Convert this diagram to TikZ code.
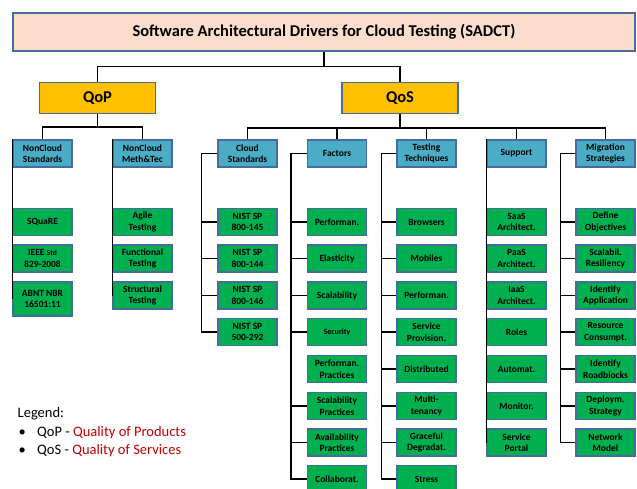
\documentclass[tikz,border=0pt]{standalone}
\usepackage{fontspec}
\setmainfont{Carlito}
\usepackage{xcolor}
\definecolor{titlefill}{RGB}{251,221,206}
\definecolor{edgeblue}{RGB}{70,108,158}
\definecolor{qgold}{RGB}{255,192,0}
\definecolor{hdrblue}{RGB}{75,172,198}
\definecolor{leafgreen}{RGB}{0,176,80}
\definecolor{qred}{RGB}{192,0,0}

\tikzset{
  box/.style={draw=edgeblue,line width=1.2pt,minimum width=59pt,minimum height=27pt,
    inner sep=1pt,align=center,font=\fontsize{9.5}{11.5}\selectfont\bfseries},
  hdr/.style={box,fill=hdrblue},
  leaf/.style={box,fill=leafgreen},
  qbox/.style={draw=edgeblue,line width=1.2pt,fill=qgold,minimum width=116pt,
    minimum height=31pt,font=\fontsize{16.5}{18}\selectfont\bfseries},
  link/.style={line width=1.8pt,black},
  legendtext/.style={inner sep=0pt,anchor=west,font=\fontsize{14.5}{17}\selectfont},
}

\begin{document}
\begin{tikzpicture}[x=1pt,y=-1pt]
\useasboundingbox (0,0) rectangle (637,489);

% top levels
\node[draw=edgeblue,line width=1.2pt,fill=titlefill,minimum width=622pt,minimum height=38pt,
  font=\fontsize{16.5}{18}\selectfont\bfseries] (sadct) at (324,32)
  {Software Architectural Drivers for Cloud Testing (SADCT)};
\node[qbox] (qop) at (97.5,98) {QoP};
\node[qbox] (qos) at (400,98) {QoS};

% second level
\node[hdr] (ncstd) at (42.5,153.5) {NonCloud\\Standards};
\node[hdr] (ncmt) at (142.5,153.5) {NonCloud\\Meth\&Tec};
\node[hdr] (cloud) at (247.5,153.5) {Cloud\\Standards};
\node[hdr] (factors) at (337,153.5) {Factors};
\node[hdr] (testing) at (426.5,153.5) {Testing\\Techniques};
\node[hdr] (support) at (516.5,153.5) {Support};
\node[hdr] (migration) at (605.5,153.5) {Migration\\Strategies};

% NonCloud Standards
\node[leaf] (square) at (42.5,222) {SQuaRE};
\node[leaf] (ieee) at (42.5,258.5) {IEEE {\fontsize{7.5}{9}\selectfont Std}\\829-2008};
\node[leaf,minimum height=34pt] (abnt) at (42.5,299) {ABNT NBR\\16501:11};

% NonCloud Meth&Tec
\node[leaf] (agile) at (142.5,222) {Agile\\Testing};
\node[leaf] (functional) at (142.5,258.5) {Functional\\Testing};
\node[leaf] (structural) at (142.5,295.5) {Structural\\Testing};

% Cloud Standards
\node[leaf] (nist1) at (247.5,222) {NIST SP\\800-145};
\node[leaf] (nist2) at (247.5,258.5) {NIST SP\\800-144};
\node[leaf] (nist3) at (247.5,295.5) {NIST SP\\800-146};
\node[leaf] (nist4) at (247.5,332) {NIST SP\\500-292};

% Factors
\node[leaf] (fperf) at (337,222) {Performan.};
\node[leaf] (felast) at (337,258.5) {Elasticity};
\node[leaf] (fscal) at (337,295.5) {Scalability};
\node[leaf,font=\fontsize{8}{10}\selectfont\bfseries] (fsec) at (337,332) {Security};
\node[leaf] (fperfprac) at (337,369) {Performan.\\Practices};
\node[leaf] (fscalprac) at (337,406) {Scalability\\Practices};
\node[leaf] (favailprac) at (337,442.5) {Availability\\Practices};
\node[leaf] (fcollab) at (337,479) {Collaborat.};

% Testing Techniques
\node[leaf] (tbrow) at (426.5,222) {Browsers};
\node[leaf] (tmob) at (426.5,258.5) {Mobiles};
\node[leaf] (tperf) at (426.5,295.5) {Performan.};
\node[leaf] (tprov) at (426.5,332) {Service\\Provision.};
\node[leaf] (tdist) at (426.5,369) {Distributed};
\node[leaf] (tmulti) at (426.5,406) {Multi-\\tenancy};
\node[leaf] (tgrace) at (426.5,442.5) {Graceful\\Degradat.};
\node[leaf] (tstress) at (426.5,479) {Stress};

% Support
\node[leaf] (saas) at (516.5,222) {SaaS\\Architect.};
\node[leaf] (paas) at (516.5,258.5) {PaaS\\Architect.};
\node[leaf] (iaas) at (516.5,295.5) {IaaS\\Architect.};
\node[leaf] (roles) at (516.5,332) {Roles};
\node[leaf] (automat) at (516.5,369) {Automat.};
\node[leaf] (monitor) at (516.5,406) {Monitor.};
\node[leaf] (portal) at (516.5,442.5) {Service\\Portal};

% Migration Strategies
\node[leaf] (mobj) at (605.5,222) {Define\\Objectives};
\node[leaf] (mres) at (605.5,258.5) {Scalabil.\\Resiliency};
\node[leaf] (mapp) at (605.5,295.5) {Identify\\Application};
\node[leaf] (mcons) at (605.5,332) {Resource\\Consumpt.};
\node[leaf] (mroad) at (605.5,369) {Identify\\Roadblocks};
\node[leaf] (mdepl) at (605.5,406) {Deploym.\\Strategy};
\node[leaf] (mnet) at (605.5,442.5) {Network\\Model};

% tree links
\draw[link] (sadct.south) -- ++(0,15) -| (qop.north);
\draw[link] (sadct.south) -- ++(0,15) -| (qos.north);
\draw[link] (qop.south) -- ++(0,13) -| (ncstd.north);
\draw[link] (qop.south) -- ++(0,13) -| (ncmt.north);
\draw[link] (qos.south) -- ++(0,14) -| (cloud.north);
\draw[link] (qos.south) -- ++(0,14) -| (factors.north);
\draw[link] (qos.south) -- ++(0,14) -| (testing.north);
\draw[link] (qos.south) -- ++(0,14) -| (support.north);
\draw[link] (qos.south) -- ++(0,14) -| (migration.north);

% lines along the left edge
\draw[link] (ncstd.north west) -- (abnt.west);
\draw[link] (ncmt.north west) -- (structural.west);
\draw[link] (support.north west) -- (portal.west);

% Cloud Standards
\draw[link] (cloud.west) -- ++(-16,0) |- (nist1.west);
\draw[link] (cloud.west) -- ++(-16,0) |- (nist2.west);
\draw[link] (cloud.west) -- ++(-16,0) |- (nist3.west);
\draw[link] (cloud.west) -- ++(-16,0) |- (nist4.west);

% Factors
\draw[link] (factors.west) -- ++(-16,0) |- (fperf.west);
\draw[link] (factors.west) -- ++(-16,0) |- (felast.west);
\draw[link] (factors.west) -- ++(-16,0) |- (fscal.west);
\draw[link] (factors.west) -- ++(-16,0) |- (fsec.west);
\draw[link] (factors.west) -- ++(-16,0) |- (fscalprac.west);
\draw[link] (factors.west) -- ++(-16,0) |- (favailprac.west);
\draw[link] (factors.west) -- ++(-16,0) |- (fcollab.west);

% Testing Techniques
\draw[link] (testing.west) -- ++(-15,0) |- (tbrow.west);
\draw[link] (testing.west) -- ++(-15,0) |- (tmob.west);
\draw[link] (testing.west) -- ++(-15,0) |- (tperf.west);
\draw[link] (testing.west) -- ++(-15,0) |- (tprov.west);
\draw[link] (testing.west) -- ++(-15,0) |- (tdist.west);
\draw[link] (testing.west) -- ++(-15,0) |- (tmulti.west);
\draw[link] (testing.west) -- ++(-15,0) |- (tgrace.west);
\draw[link] (testing.west) -- ++(-15,0) |- (tstress.west);

% Migration Strategies
\draw[link] (migration.west) -- ++(-15,0) |- (mobj.west);
\draw[link] (migration.west) -- ++(-15,0) |- (mres.west);
\draw[link] (migration.west) -- ++(-15,0) |- (mapp.west);
\draw[link] (migration.west) -- ++(-15,0) |- (mcons.west);
\draw[link] (migration.west) -- ++(-15,0) |- (mroad.west);
\draw[link] (migration.west) -- ++(-15,0) |- (mdepl.west);
\draw[link] (migration.west) -- ++(-15,0) |- (mnet.west);

% legend
\node[legendtext] (legend) at (17.5,414) {Legend:};
\node[legendtext] (bullet1) at (18.5,433) {\textbullet};
\node[legendtext] (qopdef) at (37,433) {QoP - \textcolor{qred}{Quality of Products}};
\node[legendtext] (bullet2) at (18.5,451) {\textbullet};
\node[legendtext] (qosdef) at (37,451) {QoS - \textcolor{qred}{Quality of Services}};
\end{tikzpicture}
\end{document}
